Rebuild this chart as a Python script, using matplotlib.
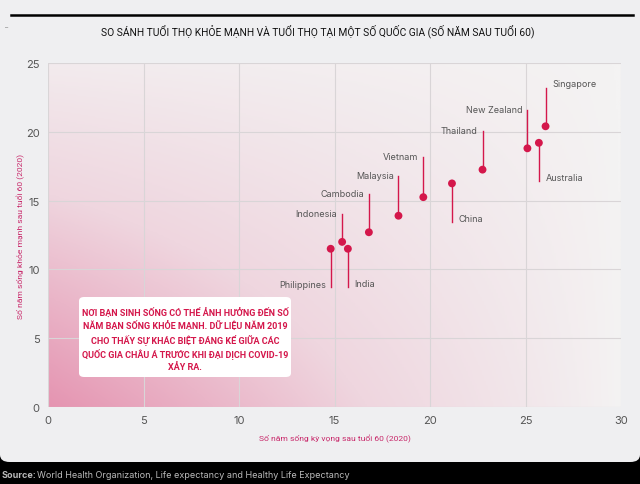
import numpy as np
import matplotlib
matplotlib.use('Agg')
import matplotlib.pyplot as plt
from matplotlib.patches import FancyBboxPatch
from matplotlib.colors import LinearSegmentedColormap

# data
countries = ['Philippines', 'Indonesia', 'India', 'Cambodia', 'Malaysia', 'Vietnam',
             'China', 'Thailand', 'New Zealand', 'Australia', 'Singapore']
life_exp = [14.8, 15.4, 15.7, 16.8, 18.35, 19.65, 21.15, 22.75, 25.1, 25.7, 26.05]
healthy_exp = [11.5, 12.0, 11.5, 12.7, 13.9, 15.25, 16.25, 17.25, 18.8, 19.2, 20.4]

# leader line end (in y units) and which side the label sits
leader_end = [8.7, 14.0, 8.7, 15.5, 16.8, 18.15, 13.45, 20.05, 21.6, 16.4, 23.2]
label_side = ['left', 'left', 'right', 'left', 'left', 'left',
              'right', 'left', 'left', 'right', 'right']

title = 'SO SÁNH TUỔI THỌ KHỎE MẠNH VÀ TUỔI THỌ TẠI MỘT SỐ QUỐC GIA (SỐ NĂM SAU TUỔI 60)'
xlab = 'Số năm sống kỳ vọng sau tuổi 60 (2020)'
ylab = 'Số năm sống khỏe mạnh sau tuổi 60 (2020)'
note = ('NƠI BẠN SINH SỐNG CÓ THỂ ẢNH HƯỞNG ĐẾN SỐ\nNĂM BẠN SỐNG KHỎE MẠNH. DỮ LIỆU NĂM 2019\n'
        'CHO THẤY SỰ KHÁC BIỆT ĐÁNG KỂ GIỮA CÁC\nQUỐC GIA CHÂU Á TRƯỚC KHI ĐẠI DỊCH COVID-19\nXẢY RA.')

RED = '#d4174b'
PINK = '#c8286a'
narrow = ['Roboto', 'DejaVu Sans']
plain = ['Inter', 'DejaVu Sans']
plt.rcParams['font.family'] = plain

fig = plt.figure(figsize=(6.4, 4.85), dpi=100, facecolor='black')

# light card behind everything
card = FancyBboxPatch((0, 22 / 485), 1, 1.1, boxstyle='round,pad=0,rounding_size=0.015',
                      transform=fig.transFigure, facecolor='#efeff1', edgecolor='none', zorder=-5)
fig.patches.append(card)
fig.add_artist(plt.Line2D([11 / 640, 633 / 640], [469 / 485, 469 / 485],
                          color='black', lw=1.8, transform=fig.transFigure))

ax = fig.add_axes([48 / 640, 77 / 485, 573 / 640, 344 / 485])
ax.set_facecolor('none')

# pink wash from bottom-left
gx, gy = np.meshgrid(np.linspace(0, 1, 300), np.linspace(0, 1, 250))
t = np.clip(((1 - gx) * (1 - 0.9 * gy)) ** 0.85, 0, 1)
cmap = LinearSegmentedColormap.from_list('wash', ['#f4f3f3', '#efd6df', '#e594b1'])
ax.imshow(t, extent=[0, 30, 0, 25], origin='lower', cmap=cmap, aspect='auto',
          zorder=0, interpolation='bilinear', vmin=0, vmax=1)

ax.set_xlim(0, 30)
ax.set_ylim(0, 25)
ax.set_xticks(range(0, 31, 5))
ax.set_yticks(range(0, 26, 5))
ax.grid(True, color='#d9d5d7', lw=0.8, zorder=1)
for s in ax.spines.values():
    s.set_visible(False)
ax.tick_params(length=0, labelsize=8, colors='#555555', pad=6)

for i, c in enumerate(countries):
    x, y, e = life_exp[i], healthy_exp[i], leader_end[i]
    ax.plot([x, x], [y, e], color=RED, lw=1, zorder=3)
    if label_side[i] == 'left':
        ax.text(x - 0.25, e + (0.05 if e > y else 0.2), c, ha='right', va='center',
                fontsize=6.5, color='#555555', zorder=4)
    else:
        ax.text(x + 0.35, e + (0.3 if e > y else 0.25), c, ha='left', va='center',
                fontsize=6.5, color='#555555', zorder=4)
ax.scatter(life_exp, healthy_exp, s=32, color=RED, zorder=5, edgecolors='none')

ax.set_xlabel(xlab, color=PINK, fontsize=6.1, family=narrow, labelpad=6)
ax.set_ylabel(ylab, color=PINK, fontsize=6.1, family=narrow, labelpad=1)

# note box
box = FancyBboxPatch((79 / 640, 107 / 485), 212 / 640, 80 / 485,
                     boxstyle='round,pad=0,rounding_size=0.008', transform=fig.transFigure,
                     facecolor='white', edgecolor='none', zorder=6)
fig.patches.append(box)
fig.text(185 / 640, 145 / 485, note, ha='center', va='center', color=RED, fontsize=6.5,
         fontweight='bold', family=narrow, linespacing=1.4, zorder=7)

fig.text(318 / 640, 454 / 485, title, ha='center', va='center', fontsize=7.4, family=narrow,
         color='#111111')
fig.text(5 / 640, 458 / 485, '_', fontsize=5, color='#888888')

fig.text(2 / 640, 9 / 485, 'Source:', fontsize=6.5, fontweight='bold', color='#bbbbbb',
         va='center')
fig.text(37 / 640, 9 / 485, 'World Health Organization, Life expectancy and Healthy Life Expectancy',
         fontsize=6.5, color='#bbbbbb', va='center')

fig.savefig('out.png', dpi=100, facecolor='black')
